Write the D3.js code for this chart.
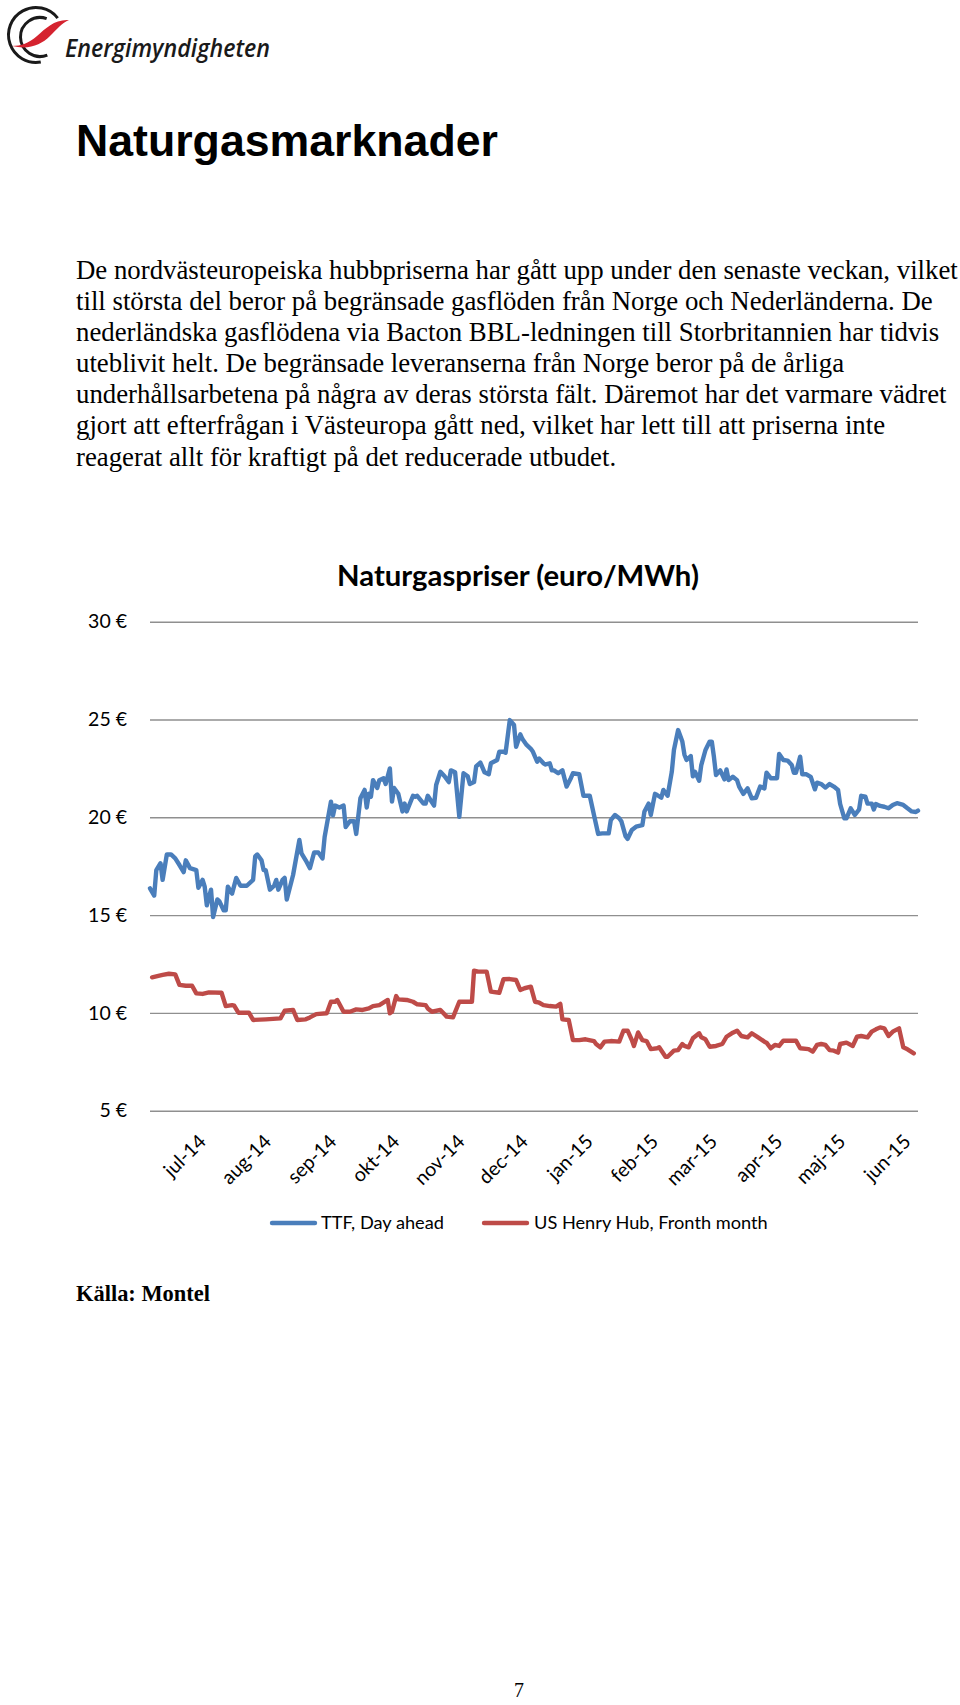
<!DOCTYPE html>
<html><head><meta charset="utf-8">
<script src="https://cdn.jsdelivr.net/npm/d3@7"></script>
<style>body{margin:0;background:#fff} svg{display:block}</style>
</head><body>
<svg id="page" width="960" height="1705"></svg>
<script>
// ---------- DATA ----------
const ttfDates = ["2014-06-05","2014-06-07","2014-06-08","2014-06-10","2014-06-11","2014-06-13","2014-06-15","2014-06-17","2014-06-19","2014-06-21","2014-06-22","2014-06-24","2014-06-27","2014-06-28","2014-06-30","2014-07-01","2014-07-02","2014-07-04","2014-07-05","2014-07-07","2014-07-08","2014-07-10","2014-07-11","2014-07-12","2014-07-14","2014-07-16","2014-07-18","2014-07-21","2014-07-24","2014-07-25","2014-07-26","2014-07-28","2014-07-29","2014-07-30","2014-08-01","2014-08-03","2014-08-04","2014-08-05","2014-08-07","2014-08-08","2014-08-09","2014-08-12","2014-08-15","2014-08-16","2014-08-18","2014-08-20","2014-08-22","2014-08-24","2014-08-26","2014-08-27","2014-08-30","2014-08-31","2014-09-01","2014-09-03","2014-09-05","2014-09-06","2014-09-08","2014-09-10","2014-09-11","2014-09-13","2014-09-15","2014-09-16","2014-09-17","2014-09-18","2014-09-19","2014-09-21","2014-09-22","2014-09-24","2014-09-25","2014-09-27","2014-09-28","2014-09-29","2014-10-01","2014-10-03","2014-10-04","2014-10-05","2014-10-08","2014-10-09","2014-10-10","2014-10-13","2014-10-14","2014-10-15","2014-10-18","2014-10-19","2014-10-21","2014-10-23","2014-10-25","2014-10-26","2014-10-28","2014-10-30","2014-11-01","2014-11-03","2014-11-04","2014-11-06","2014-11-07","2014-11-09","2014-11-11","2014-11-13","2014-11-14","2014-11-17","2014-11-18","2014-11-20","2014-11-21","2014-11-23","2014-11-25","2014-11-26","2014-11-28","2014-11-29","2014-12-01","2014-12-03","2014-12-04","2014-12-06","2014-12-07","2014-12-09","2014-12-10","2014-12-12","2014-12-13","2014-12-14","2014-12-16","2014-12-18","2014-12-20","2014-12-22","2014-12-23","2014-12-26","2014-12-28","2014-12-31","2015-01-02","2015-01-04","2015-01-06","2015-01-09","2015-01-10","2015-01-12","2015-01-14","2015-01-15","2015-01-17","2015-01-18","2015-01-20","2015-01-22","2015-01-25","2015-01-26","2015-01-28","2015-01-29","2015-01-31","2015-02-01","2015-02-03","2015-02-04","2015-02-06","2015-02-08","2015-02-09","2015-02-11","2015-02-13","2015-02-14","2015-02-15","2015-02-17","2015-02-18","2015-02-19","2015-02-21","2015-02-22","2015-02-24","2015-02-26","2015-02-27","2015-02-28","2015-03-01","2015-03-03","2015-03-05","2015-03-06","2015-03-07","2015-03-09","2015-03-11","2015-03-12","2015-03-14","2015-03-16","2015-03-18","2015-03-20","2015-03-22","2015-03-24","2015-03-25","2015-03-27","2015-03-30","2015-03-31","2015-04-02","2015-04-04","2015-04-06","2015-04-07","2015-04-08","2015-04-10","2015-04-11","2015-04-13","2015-04-15","2015-04-17","2015-04-18","2015-04-20","2015-04-22","2015-04-24","2015-04-26","2015-04-28","2015-04-29","2015-05-01","2015-05-02","2015-05-04","2015-05-06","2015-05-08","2015-05-09","2015-05-11","2015-05-12","2015-05-14","2015-05-15","2015-05-16","2015-05-18","2015-05-20","2015-05-22","2015-05-24","2015-05-26","2015-05-29","2015-05-31","2015-06-02","2015-06-04","2015-06-05"];
const ttfValues = [16.37,16.0,17.3,17.65,16.8,18.1,18.1,17.9,17.56,17.2,17.8,17.4,17.3,16.4,16.8,16.45,15.5,16.3,14.9,15.8,15.7,15.25,15.25,16.45,16.1,16.9,16.5,16.5,16.8,18.0,18.1,17.8,17.3,17.3,16.3,16.5,16.8,16.3,16.8,16.9,15.8,17.05,18.84,18.16,17.8,17.4,18.2,18.2,17.9,19.0,20.8,20.1,20.6,20.5,20.6,19.5,19.8,19.8,19.15,20.97,21.4,20.5,21.2,21.05,21.9,21.5,21.9,22.0,21.7,22.5,20.8,21.5,21.2,20.3,20.7,20.3,21.1,21.05,21.1,20.7,20.7,21.1,20.6,21.65,22.33,22.1,21.8,22.4,22.3,20.03,22.25,22.1,21.7,21.8,22.6,22.8,22.3,22.2,22.76,22.93,23.35,23.35,23.3,24.97,24.72,23.6,24.24,24.0,23.7,23.5,23.35,22.84,23.0,22.76,22.7,22.76,22.4,22.4,22.25,22.4,21.57,22.0,22.25,22.2,21.1,21.1,20.12,19.15,19.18,19.18,19.86,20.12,19.95,19.8,19.04,18.9,19.35,19.52,19.6,20.3,20.7,20.12,21.2,21.14,21.0,21.4,21.1,22.33,23.44,24.46,23.87,23.2,22.93,23.13,22.1,22.33,21.87,22.67,23.44,23.87,23.87,23.1,22.16,22.4,21.94,22.45,21.9,22.07,21.9,21.57,21.2,21.48,20.97,21.0,21.57,21.48,22.28,22.0,22.0,23.24,22.93,22.9,22.67,22.28,22.28,23.1,22.2,22.2,22.07,21.43,21.77,21.7,21.52,21.7,21.57,21.4,20.68,19.95,19.95,20.46,20.12,20.4,21.1,21.05,20.7,20.7,20.4,20.68,20.58,20.54,20.46,20.63,20.72,20.63,20.46,20.3,20.27,20.34];

const hhDates = ["2014-06-06","2014-06-09","2014-06-11","2014-06-14","2014-06-17","2014-06-19","2014-06-22","2014-06-25","2014-06-27","2014-06-30","2014-07-03","2014-07-09","2014-07-11","2014-07-14","2014-07-15","2014-07-17","2014-07-22","2014-07-24","2014-07-30","2014-08-06","2014-08-08","2014-08-12","2014-08-14","2014-08-18","2014-08-20","2014-08-23","2014-08-28","2014-08-30","2014-09-01","2014-09-02","2014-09-05","2014-09-08","2014-09-11","2014-09-14","2014-09-17","2014-09-19","2014-09-22","2014-09-26","2014-09-27","2014-09-28","2014-09-30","2014-10-01","2014-10-05","2014-10-08","2014-10-10","2014-10-14","2014-10-15","2014-10-17","2014-10-21","2014-10-24","2014-10-27","2014-10-30","2014-11-05","2014-11-06","2014-11-08","2014-11-12","2014-11-14","2014-11-18","2014-11-20","2014-11-23","2014-11-26","2014-11-28","2014-11-30","2014-12-03","2014-12-05","2014-12-07","2014-12-09","2014-12-12","2014-12-15","2014-12-17","2014-12-18","2014-12-21","2014-12-23","2014-12-26","2014-12-29","2015-01-02","2015-01-03","2015-01-05","2015-01-07","2015-01-10","2015-01-14","2015-01-16","2015-01-18","2015-01-20","2015-01-21","2015-01-23","2015-01-25","2015-01-27","2015-01-29","2015-02-01","2015-02-02","2015-02-05","2015-02-06","2015-02-09","2015-02-11","2015-02-13","2015-02-14","2015-02-16","2015-02-18","2015-02-21","2015-02-22","2015-02-24","2015-02-26","2015-03-01","2015-03-04","2015-03-06","2015-03-09","2015-03-11","2015-03-13","2015-03-16","2015-03-18","2015-03-21","2015-03-24","2015-03-25","2015-03-27","2015-03-29","2015-03-31","2015-04-02","2015-04-08","2015-04-10","2015-04-14","2015-04-16","2015-04-18","2015-04-20","2015-04-22","2015-04-24","2015-04-26","2015-04-28","2015-04-29","2015-05-02","2015-05-05","2015-05-07","2015-05-09","2015-05-12","2015-05-14","2015-05-16","2015-05-18","2015-05-20","2015-05-22","2015-05-24","2015-05-27","2015-05-29","2015-05-31","2015-06-03"];
const hhValues = [11.82,11.89,11.94,12.0,11.97,11.43,11.39,11.39,11.0,10.97,11.05,11.03,10.35,10.4,10.37,10.01,10.01,9.64,9.67,9.72,10.11,10.15,9.64,9.67,9.77,9.94,9.98,10.57,10.57,10.66,10.06,10.06,10.18,10.15,10.23,10.35,10.4,10.66,9.98,10.06,10.86,10.69,10.66,10.57,10.44,10.4,10.23,10.06,10.15,9.81,9.77,10.57,10.57,12.16,12.11,12.11,11.09,11.03,11.72,11.73,11.68,11.17,11.26,11.34,10.57,10.52,10.4,10.35,10.32,10.46,9.67,9.64,8.61,8.61,8.65,8.56,8.41,8.24,8.53,8.56,8.53,9.09,9.09,8.61,8.31,9.0,8.61,8.56,8.15,8.19,8.24,7.76,7.76,8.07,8.1,8.41,8.31,8.24,8.7,8.96,8.75,8.65,8.27,8.31,8.41,8.78,8.99,9.09,8.82,8.75,8.96,8.75,8.53,8.48,8.19,8.36,8.31,8.58,8.58,8.19,8.15,8.02,8.36,8.41,8.36,8.1,8.07,7.97,8.41,8.48,8.31,8.78,8.82,8.75,9.04,9.16,9.26,9.21,8.82,9.04,9.21,8.24,8.14,7.93];

const yTicks = [5, 10, 15, 20, 25, 30];
const xTickDates = ["2014-07-01","2014-08-01","2014-09-01","2014-10-01","2014-11-01","2014-12-01","2015-01-01","2015-02-01","2015-03-01","2015-04-01","2015-05-01","2015-06-01"];
const xTickLabels = ["jul-14","aug-14","sep-14","okt-14","nov-14","dec-14","jan-15","feb-15","mar-15","apr-15","maj-15","jun-15"];
const seriesNames = ["TTF, Day ahead", "US Henry Hub, Fronth month"];
const xDomain = ["2014-06-05", "2015-06-05"];

const bodyLines = [
 "De nordvästeuropeiska hubbpriserna har gått upp under den senaste veckan, vilket",
 "till största del beror på begränsade gasflöden från Norge och Nederländerna. De",
 "nederländska gasflödena via Bacton BBL-ledningen till Storbritannien har tidvis",
 "uteblivit helt. De begränsade leveranserna från Norge beror på de årliga",
 "underhållsarbetena på några av deras största fält. Däremot har det varmare vädret",
 "gjort att efterfrågan i Västeuropa gått ned, vilket har lett till att priserna inte",
 "reagerat allt för kraftigt på det reducerade utbudet."
];

// ---------- DRAW ----------
const svg = d3.select("#page");
const parse = d3.timeParse("%Y-%m-%d");
const BLUE = "#4a7ebb", RED = "#be4b48", GRID = "#8f8f8f";
const chartFont = "Lato, 'Open Sans', sans-serif";

function fit(sel, target){
  const w = sel.node().getComputedTextLength();
  const fs = parseFloat(sel.attr("font-size"));
  const nf = fs * target / w;
  sel.attr("font-size", nf);
  return nf;
}
function arcPath(cx, cy, r, a0, a1){ // degrees, counterclockwise from a0 to a1 (a1 < a0)
  const p = a => [cx + r*Math.cos(a*Math.PI/180), cy + r*Math.sin(a*Math.PI/180)];
  const s = p(a0), e = p(a1);
  const large = (a0 - a1) > 180 ? 1 : 0;
  return `M${s[0]},${s[1]} A${r},${r} 0 ${large} 0 ${e[0]},${e[1]}`;
}

// Logo
const logo = svg.append("g");
logo.append("path").attr("d", arcPath(36, 35, 27.5, -38, -280))
  .attr("fill","none").attr("stroke","#1a1a1a").attr("stroke-width",3);
logo.append("path").attr("d", arcPath(40, 37, 19.5, -70, -292))
  .attr("fill","none").attr("stroke","#1a1a1a").attr("stroke-width",3);
logo.append("path")
  .attr("d","M12,46 C21,46 29,43 37,36 C46,28 55,19 69,20 C62,23 57,29 50,36 C41,45 29,50 12,46 Z")
  .attr("fill","#d5232f");
logo.append("text")
  .attr("x",65).attr("y",57)
  .attr("font-family","'Open Sans', 'Noto Sans', sans-serif")
  .attr("font-style","italic").attr("font-weight",600).attr("font-size",26)
  .attr("textLength",205).attr("lengthAdjust","spacingAndGlyphs")
  .attr("fill","#1a1a1a")
  .text("Energimyndigheten");

// Title
const title = svg.append("text")
  .attr("x",76).attr("y",155.5)
  .attr("font-family","'Liberation Sans', Arial, sans-serif")
  .attr("font-weight","bold").attr("font-size",45)
  .attr("fill","#000").text("Naturgasmarknader");
fit(title, 422);

// Body
const body = svg.append("g")
  .attr("font-family","'Liberation Serif', 'Times New Roman', serif")
  .attr("fill","#000");
const bl = body.selectAll("text").data(bodyLines).join("text")
  .attr("x",76).attr("y",(d,i)=>278.5 + i*31.17)
  .attr("font-size",22).text(d=>d);
const bfs = fit(d3.select(bl.nodes()[0]), 882);
bl.attr("font-size", bfs);

// Chart
const x = d3.scaleTime().domain(xDomain.map(parse)).range([150, 918]);
const y = d3.scaleLinear().domain([5, 30]).range([1110.7, 621.7]);

const chart = svg.append("g");
const ct = chart.append("text")
  .attr("x",518).attr("y",586)
  .attr("text-anchor","middle")
  .attr("font-family",chartFont).attr("font-weight","bold")
  .attr("font-size",26).attr("fill","#000")
  .text("Naturgaspriser (euro/MWh)");
fit(ct, 362);

// gridlines via axis
const yAxis = d3.axisLeft(y).tickValues(yTicks).tickSize(-(918-150)).tickPadding(23)
  .tickFormat(d => d + " €");
const ya = chart.append("g").attr("transform","translate(150,0)").call(yAxis);
ya.select(".domain").remove();
ya.selectAll(".tick line").attr("stroke",GRID).attr("stroke-width",1.4);
ya.selectAll(".tick text").attr("font-family",chartFont).attr("font-size",19.5).attr("fill","#000");

// x axis labels
const xAxis = d3.axisBottom(x).tickValues(xTickDates.map(parse)).tickSize(0)
  .tickFormat((d,i)=>xTickLabels[i]);
const xa = chart.append("g").attr("transform","translate(0,1110.7)").call(xAxis);
xa.select(".domain").remove();
xa.selectAll(".tick text")
  .attr("font-family",chartFont).attr("font-size",19.5).attr("fill","#000")
  .attr("text-anchor","end").attr("dy",0).attr("y",0)
  .attr("transform","translate(2,32) rotate(-45)");

// lines
const line = d3.line().x(d=>x(d[0])).y(d=>y(d[1])).curve(d3.curveLinear);
const ttf = ttfDates.map((d,i)=>[parse(d), ttfValues[i]]);
const hh = hhDates.map((d,i)=>[parse(d), hhValues[i]]);
chart.append("path").datum(hh).attr("d",line).attr("fill","none")
  .attr("stroke",RED).attr("stroke-width",4.4).attr("stroke-linejoin","round").attr("stroke-linecap","round");
chart.append("path").datum(ttf).attr("d",line).attr("fill","none")
  .attr("stroke",BLUE).attr("stroke-width",4.4).attr("stroke-linejoin","round").attr("stroke-linecap","round");

// legend
const legend = chart.append("g");
const legItems = [{name:seriesNames[0], color:BLUE, x1:272, x2:315, tx:321},
                  {name:seriesNames[1], color:RED, x1:484, x2:527, tx:534}];
legItems.forEach(it=>{
  legend.append("line").attr("x1",it.x1).attr("x2",it.x2).attr("y1",1223).attr("y2",1223)
    .attr("stroke",it.color).attr("stroke-width",4.4).attr("stroke-linecap","round");
  it.t = legend.append("text").attr("x",it.tx).attr("y",1223).attr("dy","0.35em")
    .attr("font-family",chartFont).attr("font-size",20).attr("fill","#000").text(it.name);
});
const lfs = fit(legItems[0].t, 123);
legItems[1].t.attr("font-size", lfs);

// source
const src = svg.append("text").attr("x",76).attr("y",1301)
  .attr("font-family","'Liberation Serif', 'Times New Roman', serif")
  .attr("font-weight","bold").attr("font-size",22.4).attr("fill","#000").text("Källa: Montel");
fit(src, 134);

// page number
svg.append("text").attr("x",519).attr("y",1697).attr("text-anchor","middle")
  .attr("font-family","'Liberation Serif', 'Times New Roman', serif")
  .attr("font-size",20).attr("fill","#000").text("7");
</script></body></html>
